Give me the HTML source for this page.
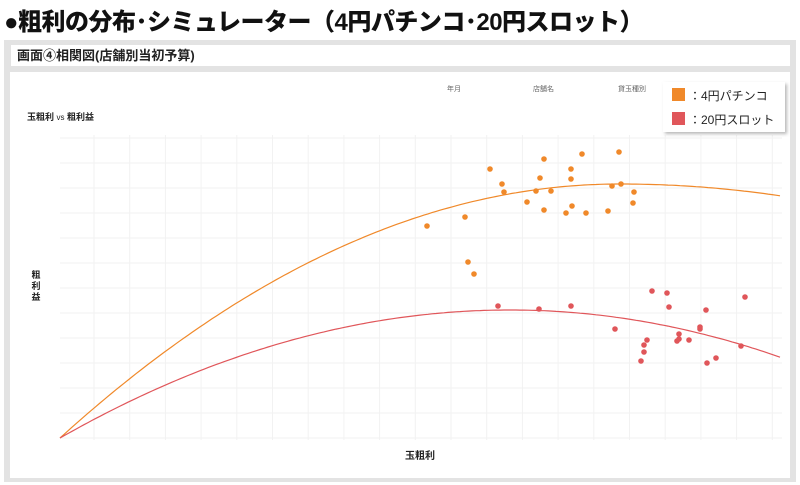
<!DOCTYPE html>
<html><head><meta charset="utf-8"><style>
body{margin:0;width:800px;height:485px;background:#fff;overflow:hidden;font-family:"Liberation Sans","Noto Sans CJK JP",sans-serif;position:relative}
.t{position:absolute;left:4px;top:2px;font-size:24px;font-weight:900;color:#111;letter-spacing:-0.5px;white-space:nowrap}
.frame{position:absolute;left:4px;top:40px;width:792px;height:442px;background:#e3e3e3}
.hdr{position:absolute;left:11px;top:45px;width:779px;height:21px;background:#fff;font-size:13px;font-weight:bold;color:#222;line-height:21px;padding-left:6px;box-sizing:border-box}
.chart{position:absolute;left:10px;top:72px;width:780px;height:406px;background:#fff}
</style></head><body>
<div class="t">●粗利の分布･シミュレーター（4円パチンコ･20円スロット）</div>
<div class="frame"></div>
<div class="hdr">画面④相関図(店舗別当初予算)</div>
<div class="chart"></div>
<svg width="800" height="485" style="position:absolute;left:0;top:0" font-family="Liberation Sans, Noto Sans CJK JP, sans-serif">
<defs><filter id="sh"><feDropShadow dx="2" dy="2" stdDeviation="1.5" flood-color="#888" flood-opacity="0.6"/></filter></defs>
<g stroke="#f2f2f2" stroke-width="1" id="grid"></g>
<text x="447" y="91" font-size="7" fill="#666">年月</text>
<text x="533" y="91" font-size="7" fill="#666">店舗名</text>
<text x="618" y="91" font-size="7" fill="#666">貸玉種別</text>
<rect x="663" y="82" width="122" height="50" fill="#fff" filter="url(#sh)"/>
<rect x="672" y="88" width="13" height="13" fill="#f0892a"/>
<rect x="672" y="112" width="13" height="13" fill="#e0565a"/>
<text x="689" y="100" font-size="12" fill="#222">：4円パチンコ</text>
<text x="689" y="124" font-size="12" fill="#222">：20円スロット</text>
<text x="27" y="120" font-size="9" font-weight="bold" fill="#222">玉粗利 <tspan font-weight="normal" font-size="8">vs</tspan> 粗利益</text>
<text x="36" y="278" font-size="9" font-weight="bold" fill="#222" text-anchor="middle">粗</text>
<text x="36" y="289" font-size="9" font-weight="bold" fill="#222" text-anchor="middle">利</text>
<text x="36" y="300" font-size="9" font-weight="bold" fill="#222" text-anchor="middle">益</text>
<text x="420" y="459" font-size="10" font-weight="bold" fill="#222" text-anchor="middle">玉粗利</text>
<path id="po" fill="none" stroke="#f0892a" stroke-width="1.2"/>
<path id="pr" fill="none" stroke="#e0565a" stroke-width="1.2"/>
<g id="dots"></g>
</svg>
<script>
var ns="http://www.w3.org/2000/svg",g=document.getElementById('grid');
function ln(a,b,c,d){var l=document.createElementNS(ns,'line');l.setAttribute('x1',a);l.setAttribute('y1',b);l.setAttribute('x2',c);l.setAttribute('y2',d);g.appendChild(l);}
for(var x=94;x<=782;x+=35.7)ln(x,135,x,440);
for(var y=438;y>=135;y-=25)ln(60,y,782,y);
function curve(px,h,corr){var d='';for(var x=60;x<=782;x+=4){var t=(x-60)/px;var y=438-h*(2*t-t*t)-corr*Math.max(0,t-1)*Math.max(0,t-1);d+=(x==60?'M':'L')+x+','+y.toFixed(1);}return d;}
document.getElementById('po').setAttribute('d',curve(560,254,110));
document.getElementById('pr').setAttribute('d',curve(450,128,-3));
var o=[[490,169],[502,184],[504,192],[544,159],[540,178],[536,191],[551,191],[527,202],[544,210],[566,213],[572,206],[586,213],[571,169],[571,179],[582,154],[619,152],[612,186],[621,184],[634,192],[633,203],[608,211],[465,217],[427,226],[468,262],[474,274]];
var r=[[498,306],[539,309],[571,306],[615,329],[652,291],[667,293],[669,307],[706,310],[745,297],[700,327],[700,329],[679,334],[677,341],[679,339],[689,340],[647,340],[644,345],[644,352],[641,361],[707,363],[716,358],[741,346]];
var dg=document.getElementById('dots');
function dot(p,c){var e=document.createElementNS(ns,'circle');e.setAttribute('cx',p[0]);e.setAttribute('cy',p[1]);e.setAttribute('r',2.8);e.setAttribute('fill',c);dg.appendChild(e);}
o.forEach(function(p){dot(p,'#f0892a')});r.forEach(function(p){dot(p,'#e0565a')});
</script>
</body></html>
